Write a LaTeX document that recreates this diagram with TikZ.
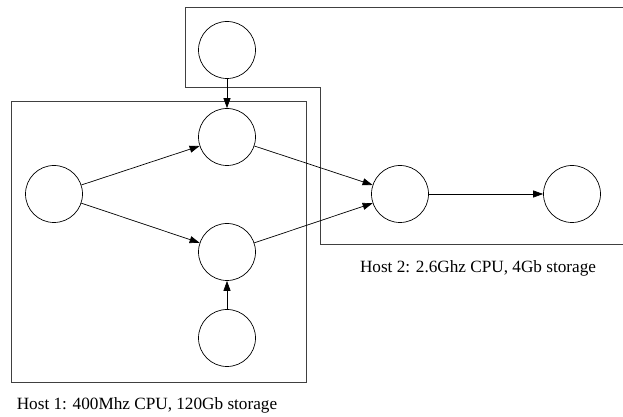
\documentclass[tikz,border=0pt]{standalone}
\usepackage{fontspec}
\setmainfont{Liberation Serif}
\usetikzlibrary{arrows.meta}

\begin{document}
\begin{tikzpicture}[x=1pt,y=1pt,
    job/.style={draw,circle,minimum size=57pt,inner sep=0pt,line width=0.7pt},
    flow/.style={-{Triangle[length=10pt,width=7pt]},line width=0.7pt},
    host/.style={line width=0.9pt,draw=black!75},
    font=\fontsize{17.2}{20}\selectfont]
    \useasboundingbox (0,0) rectangle (623,417);
    % hosts
    \draw[host] (11,35) rectangle (306,316);
    \draw[host] (623,410) -- (185,410) -- (185,330) -- (320,330) -- (320,173) -- (623,173);
    \node (h1) at (147,12) {Host 1: 400Mhz CPU, 120Gb storage};
    \node (h2) at (478,149) {Host 2: 2.6Ghz CPU, 4Gb storage};
    % jobs
    \node[job] (top) at (227,367) {};
    \node[job] (up) at (227,280) {};
    \node[job] (src) at (54,223) {};
    \node[job] (down) at (227,165) {};
    \node[job] (bot) at (227,79) {};
    \node[job] (mid) at (400,223) {};
    \node[job] (sink) at (572,223) {};
    % edges
    \draw[flow] (src) -- (up);
    \draw[flow] (src) -- (down);
    \draw[flow] (top) -- (up);
    \draw[flow] (bot) -- (down);
    \draw[flow] (up) -- (mid);
    \draw[flow] (down) -- (mid);
    \draw[flow] (mid) -- (sink);
\end{tikzpicture}
\end{document}
